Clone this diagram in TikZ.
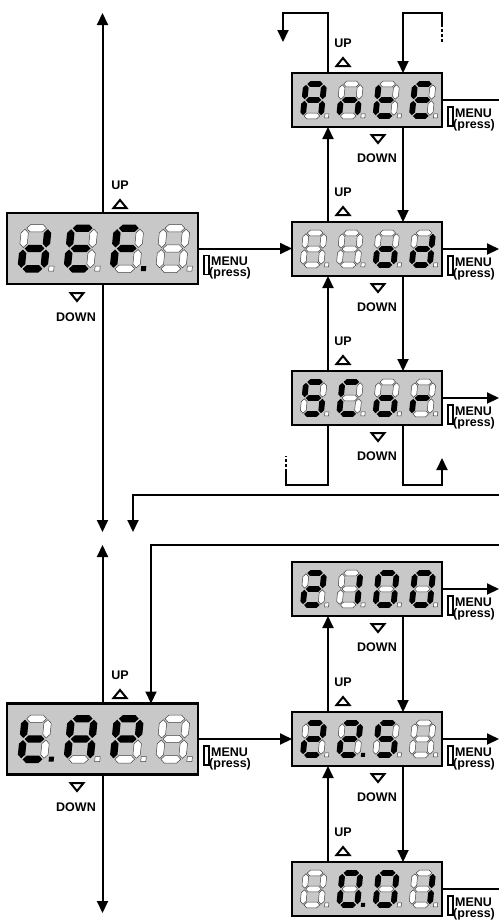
\documentclass[tikz,border=0pt]{standalone}
\usepackage{fontspec}
\setmainfont{Liberation Sans}
\usetikzlibrary{arrows.meta}
\definecolor{boxgray}{RGB}{200,200,200}
% seven-segment helpers (local units: px, y down)
\newcommand\hseg[2]{\path[seg#1] (-7.8,#2) -- (-4.9,{#2-2.9}) -- (4.9,{#2-2.9}) -- (7.8,#2) -- (4.9,{#2+2.9}) -- (-4.9,{#2+2.9}) -- cycle;}
\newcommand\vseg[4]{\path[seg#1] (#2,{#3+0.8}) -- ({#2+2.9},{#3+3.7}) -- ({#2+2.9},{#4-3.7}) -- (#2,{#4-0.8}) -- ({#2-2.9},{#4-3.7}) -- ({#2-2.9},{#3+3.7}) -- cycle;}
\def\sdig#1#2#3#4#5#6#7#8{%
  \hseg{#1}{-16}\vseg{#2}{9}{-16}{0}\vseg{#3}{9}{0}{16}\hseg{#4}{16}%
  \vseg{#5}{-9}{0}{16}\vseg{#6}{-9}{-16}{0}\hseg{#7}{0}%
  \path[seg#8] (12.8,13.8) rectangle (16.8,17.8);}
\newcommand\disp[6]{\begin{scope}[shift={(#1.center)},scale=#2,xslant=0.1]
  \begin{scope}[shift={(-53.5,0)}]\sdig#3\end{scope}
  \begin{scope}[shift={(-17.2,0)}]\sdig#4\end{scope}
  \begin{scope}[shift={(19.1,0)}]\sdig#5\end{scope}
  \begin{scope}[shift={(55.4,0)}]\sdig#6\end{scope}
\end{scope}}
\newcommand\menulbl[1]{%
  \node[menurect, anchor=north west] (mr#1) at ([xshift=5pt,yshift=-6pt]#1.east) {};
  \node[lbl, anchor=west] (mt#1) at ([xshift=13pt,yshift=-13pt]#1.east) {MENU};
  \node[lbl, anchor=west] (mp#1) at ([xshift=11pt,yshift=-25pt]#1.east) {(press)};}
\begin{document}
\begin{tikzpicture}[x=1pt,y=-1pt,
  box/.style={draw=black, line width=2.2pt, fill=boxgray, minimum width=150pt, minimum height=54pt, inner sep=0pt, outer sep=0pt},
  bigbox/.style={box, minimum width=191pt, minimum height=71pt},
  conn/.style={line width=2pt},
  arr/.style={conn, -{Triangle[length=12pt,width=11pt]}},
  dashseg/.style={conn, dash pattern=on 3pt off 2pt},
  lbl/.style={font=\bfseries\fontsize{12.5}{13}\selectfont, inner sep=0pt},
  menurect/.style={draw=black, line width=1.6pt, fill=white, minimum width=5pt, minimum height=19pt, inner sep=0pt},
  seg0/.style={fill=white, draw=black!75, line width=0.5pt},
  seg1/.style={fill=black},
  uptri/.pic={\draw[line width=2pt, fill=white] (-6.5,4) -- (6.5,4) -- (0,-4) -- cycle;},
  dntri/.pic={\draw[line width=2pt, fill=white] (-6.5,-4) -- (6.5,-4) -- (0,4) -- cycle;}
]
\useasboundingbox (0,0) rectangle (499,921);
\clip (0,0) rectangle (499,921);

% boxes
\node[bigbox] (def) at (102.5,248.5) {};
\node[bigbox] (tap) at (102.5,739) {};
\node[box] (ante) at (367,100) {};
\node[box] (nd) at (367,249) {};
\node[box] (scor) at (367,398) {};
\node[box] (ra) at (367,589) {};
\node[box] (rb) at (367,739) {};
\node[box] (rc) at (367,889) {};

% digits  (a b c d e f g dp)
\disp{def}{1.27}{01111010}{10011110}{10001111}{00000000}
\disp{tap}{1.27}{00011111}{11101110}{11001110}{00000000}
\disp{ante}{1}{11101110}{00101010}{00011110}{10011110}
\disp{nd}{1}{00000000}{00000000}{00111010}{01111010}
\disp{scor}{1}{10110110}{10011100}{00111010}{00001010}
\disp{ra}{1}{11011010}{01100000}{11111100}{11111100}
\disp{rb}{1}{11011010}{11011011}{10110110}{00000000}
\disp{rc}{1}{00000000}{11111101}{11111100}{01100000}

% coordinates
\coordinate (ux) at (328,0);
\coordinate (dx) at (403,0);
\coordinate (edge) at (499,0);
\coordinate (topL) at (102.5,13);
\coordinate (midA) at (102.5,532);
\coordinate (midB) at (102.5,545);
\coordinate (botL) at (102.5,913);
\coordinate (e1) at (499,495);
\coordinate (k1) at (133,495);
\coordinate (k1e) at (133,532);
\coordinate (e2) at (499,545);
\coordinate (k2) at (151,545);

% left column
\draw[arr] (def.north) -- (topL);
\draw[arr] (def.south) -- (midA);
\draw[arr] (tap.north) -- (midB);
\draw[arr] (tap.south) -- (botL);
\draw[arr] (e1) -- (k1) -- (k1e);
\draw[arr] (e2) -- (k2) -- (k2 |- tap.north);
\draw[arr] (def.east) -- (def.east -| nd.west);
\draw[arr] (tap.east) -- (tap.east -| rb.west);

% right outputs
\draw[conn] (ante.east) -- (ante.east -| edge);
\draw[arr] (nd.east) -- (nd.east -| edge);
\draw[arr] (scor.east) -- (scor.east -| edge);
\draw[arr] (ra.east) -- (ra.east -| edge);
\draw[arr] (rb.east) -- (rb.east -| edge);
\draw[conn] (rc.east) -- (rc.east -| edge);

% up/down links
\draw[arr] (nd.north -| ux) -- (ante.south -| ux);
\draw[arr] (ante.south -| dx) -- (nd.north -| dx);
\draw[arr] (scor.north -| ux) -- (nd.south -| ux);
\draw[arr] (nd.south -| dx) -- (scor.north -| dx);
\draw[arr] (rb.north -| ux) -- (ra.south -| ux);
\draw[arr] (ra.south -| dx) -- (rb.north -| dx);
\draw[arr] (rc.north -| ux) -- (rb.south -| ux);
\draw[arr] (rb.south -| dx) -- (rc.north -| dx);

% loops
\coordinate (t1) at (328,13); \coordinate (t2) at (283,13); \coordinate (t3) at (283,42);
\draw[arr] (ante.north -| ux) -- (t1) -- (t2) -- (t3);
\coordinate (t4) at (442,42); \coordinate (t5) at (442,26); \coordinate (t6) at (442,13); \coordinate (t7) at (403,13);
\draw[dashseg] (t4) -- (t5);
\draw[arr] (t5) -- (t6) -- (t7) -- (ante.north -| dx);
\coordinate (b1) at (328,485); \coordinate (b2) at (286,485); \coordinate (b3) at (286,472); \coordinate (b4) at (286,456);
\draw[conn] (scor.south -| ux) -- (b1) -- (b2) -- (b3);
\draw[dashseg] (b3) -- (b4);
\coordinate (b5) at (403,485); \coordinate (b6) at (442,485); \coordinate (b7) at (442,458);
\draw[arr] (scor.south -| dx) -- (b5) -- (b6) -- (b7);

% UP / DOWN labels, left
\node[lbl] (upd) at (120,185) {UP}; \pic at (120,204) {uptri};
\pic at (77,297) {dntri}; \node[lbl] (dnd) at (76,317) {DOWN};
\node[lbl] (upt) at (120,675) {UP}; \pic at (120,694) {uptri};
\pic at (77,787) {dntri}; \node[lbl] (dnt) at (76,807) {DOWN};
% right
\node[lbl] (upa) at (343,43) {UP}; \pic at (343,62) {uptri};
\pic at (378,139) {dntri}; \node[lbl] (dna) at (377,158) {DOWN};
\node[lbl] (upn) at (343,192) {UP}; \pic at (343,211) {uptri};
\pic at (378,288) {dntri}; \node[lbl] (dnn) at (377,307) {DOWN};
\node[lbl] (ups) at (343,341) {UP}; \pic at (343,360) {uptri};
\pic at (378,437) {dntri}; \node[lbl] (dns) at (377,456) {DOWN};
\pic at (378,628) {dntri}; \node[lbl] (dnr) at (377,647) {DOWN};
\node[lbl] (upb) at (343,682) {UP}; \pic at (343,701) {uptri};
\pic at (378,778) {dntri}; \node[lbl] (dnb) at (377,797) {DOWN};
\node[lbl] (upc) at (343,832) {UP}; \pic at (343,851) {uptri};

% MENU (press)
\menulbl{def}\menulbl{tap}\menulbl{ante}\menulbl{nd}\menulbl{scor}\menulbl{ra}\menulbl{rb}\menulbl{rc}
\end{tikzpicture}
\end{document}
